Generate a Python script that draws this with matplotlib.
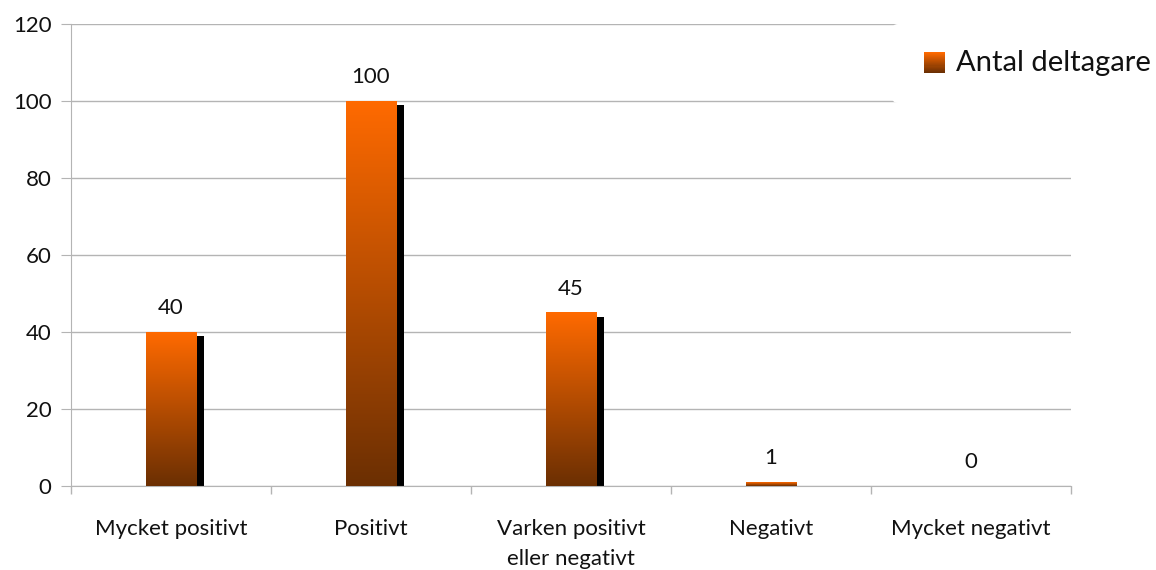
import numpy as np
import matplotlib.pyplot as plt
from matplotlib.patches import Rectangle
from matplotlib.legend_handler import HandlerBase
from matplotlib.colors import LinearSegmentedColormap

plt.rcParams['font.family'] = ['Lato', 'DejaVu Sans']

categories = ['Mycket positivt', 'Positivt', 'Varken positivt\neller negativt',
              'Negativt', 'Mycket negativt']
values = [40, 100, 45, 1, 0]
series_name = 'Antal deltagare'

top_col = '#ff6a00'
bottom_col = '#6b2f03'
grad = LinearSegmentedColormap.from_list('bar_grad', [bottom_col, top_col])
grid_col = '#b4b4b4'
text_col = '#111111'

fig = plt.figure(figsize=(11.56, 5.70), dpi=100)
ax = fig.add_axes([71 / 1156, 84 / 570, 1000 / 1156, 462 / 570])

x = np.arange(len(categories))
bar_w = 0.255
gradient = np.linspace(0, 1, 256).reshape(-1, 1)

for xi, v in zip(x, values):
    if v <= 0:
        continue
    # drop shadow to the right
    ax.add_patch(Rectangle((xi - bar_w / 2 + 0.035, 0), bar_w, max(v - 1.0, 0),
                           facecolor='black', edgecolor='none', zorder=2))
    ax.imshow(gradient, cmap=grad, origin='lower', aspect='auto',
              extent=(xi - bar_w / 2, xi + bar_w / 2, 0, v), zorder=3)

for xi, v in zip(x, values):
    ax.text(xi, v + 3.6, str(v), ha='center', va='bottom', fontsize=16,
            color=text_col, zorder=5)

ax.set_xlim(-0.5, len(categories) - 0.5)
ax.set_ylim(0, 120)
ax.set_yticks(range(0, 121, 20))
ax.set_xticks(x)
ax.set_xticklabels(categories, fontsize=16, color=text_col, linespacing=1.6)
ax.set_xticks(np.arange(-0.5, len(categories), 1), minor=True)
ax.tick_params(axis='x', which='major', length=0, pad=24)
ax.tick_params(axis='x', which='minor', length=6, color=grid_col, width=1)
ax.tick_params(axis='y', length=7, color=grid_col, labelsize=16, labelcolor=text_col, pad=7)
ax.yaxis.grid(True, color=grid_col, linewidth=1)
ax.set_axisbelow(True)
for side in ['top', 'right']:
    ax.spines[side].set_visible(False)
for side in ['left', 'bottom']:
    ax.spines[side].set_color(grid_col)


class GradientHandler(HandlerBase):
    def create_artists(self, legend, orig_handle, xdescent, ydescent,
                       width, height, fontsize, trans):
        n = 20
        side = height * 1.0
        x0 = xdescent + width - side
        arts = []
        for i in range(n):
            arts.append(Rectangle((x0, -ydescent + side * i / n - 1), side, side / n + 0.3,
                                  facecolor=grad(i / (n - 1)), edgecolor='none',
                                  transform=trans))
        return arts


leg = fig.legend([Rectangle((0, 0), 1, 1)], [series_name],
                 handler_map={Rectangle: GradientHandler()},
                 loc='upper left', bbox_to_anchor=(892 / 1156, 1 - 24 / 570),
                 fontsize=21, frameon=True, handlelength=0.9, handletextpad=0.4,
                 borderpad=0.9, borderaxespad=0)
leg.get_frame().set_facecolor('white')
leg.get_frame().set_edgecolor('none')
leg.get_frame().set_alpha(1)
for t in leg.get_texts():
    t.set_color(text_col)

fig.savefig('out.png', dpi=100, facecolor='white')
